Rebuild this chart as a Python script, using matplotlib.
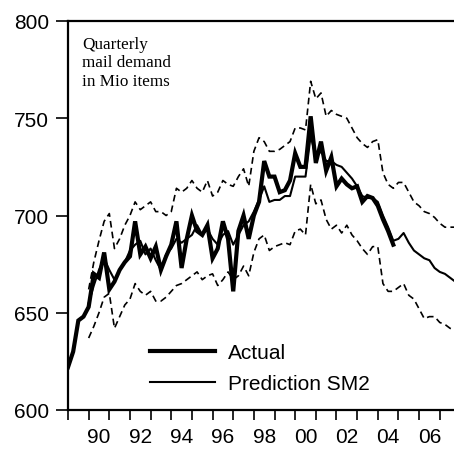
import numpy as np
import matplotlib
matplotlib.use("Agg")
import matplotlib.pyplot as plt

# Quarterly data starting 1989Q1
start_year = 1989
actual = [622, 630, 646, 648, 653, 670, 668, 681, 662, 666, 672, 676, 679, 697, 680, 684,
          678, 684, 672, 679, 685, 697, 673, 688, 700, 692, 690, 695, 678, 683, 697, 688,
          661, 692, 700, 688, 700, 707, 728, 720, 720, 712, 713, 718, 732, 725, 725, 751,
          727, 738, 723, 730, 715, 719, 716, 714, 715, 707, 710, 709, 705, 698, 692, 685]
# prediction, upper and lower bands start 1990Q1
band_start = 1990
prediction = [655, 664, 672, 678, 672, 667, 672, 676, 682, 685, 687, 680, 683, 677, 672, 680,
              683, 688, 686, 688, 690, 695, 690, 693, 688, 685, 690, 692, 685, 690, 695, 697,
              702, 708, 715, 707, 708, 708, 710, 710, 720, 720, 720, 741, 730, 733, 728, 728,
              726, 725, 722, 719, 715, 710, 709, 709, 707, 700, 694, 687, 688, 691, 686, 682,
              680, 678, 677, 673, 671, 670, 668, 666]
upper = [662, 676, 687, 697, 701, 683, 688, 695, 700, 707, 703, 705, 707, 702, 702, 700,
         702, 714, 712, 714, 718, 714, 712, 718, 710, 712, 718, 716, 715, 720, 724, 715,
         733, 740, 738, 733, 733, 734, 736, 738, 745, 745, 744, 769, 760, 763, 751, 754,
         752, 751, 750, 745, 740, 737, 735, 738, 739, 722, 716, 714, 717, 717, 712, 707,
         705, 702, 701, 699, 696, 694, 694, 694]
lower = [637, 643, 650, 658, 660, 642, 648, 654, 657, 665, 661, 659, 661, 656, 656, 658,
         661, 664, 665, 667, 669, 671, 667, 669, 670, 664, 667, 671, 667, 669, 674, 669,
         681, 688, 690, 682, 684, 685, 686, 685, 692, 693, 690, 716, 706, 708, 698, 693,
         695, 691, 695, 690, 687, 683, 680, 684, 684, 665, 661, 661, 663, 665, 659, 657,
         652, 647, 648, 648, 645, 644, 642, 641]
year_labels = ["90", "92", "94", "96", "98", "00", "02", "04", "06"]
label_years = [1990, 1992, 1994, 1996, 1998, 2000, 2002, 2004, 2006]
yticks = [600, 650, 700, 750, 800]

t_act = start_year + np.arange(len(actual)) / 4
t_band = band_start + np.arange(len(prediction)) / 4

plt.rcParams['font.family'] = ['Liberation Sans', 'DejaVu Sans']
W, H = 454, 452
fig = plt.figure(figsize=(W / 100, H / 100), dpi=100)
ax = fig.add_axes([68 / W, (H - 411) / H, (W - 68) / W, (411 - 22) / H])

ax.plot(t_band, upper, color='black', lw=1.2, ls=(0, (4, 2.5)))
ax.plot(t_band, lower, color='black', lw=1.2, ls=(0, (4, 2.5)))
ax.plot(t_act, actual, color='black', lw=3.0, label='Actual', solid_joinstyle='miter')
ax.plot(t_band, prediction, color='black', lw=1.5, label='Prediction SM2')

ax.set_xlim(1989, 2007.69)
ax.set_ylim(600, 800)
ax.spines['right'].set_visible(False)
for s in ['left', 'top', 'bottom']:
    ax.spines[s].set_linewidth(1.6)

ax.set_yticks(yticks)
ax.set_yticklabels([str(v) for v in yticks], fontsize=15)
ax.tick_params(axis='y', direction='out', length=8.6, width=1.2, pad=5)

ax.set_xticks(np.arange(1989, 2008))
ax.set_xticklabels([])
ax.tick_params(axis='x', which='major', direction='out', length=7.2, width=1.2)
ax.set_xticks([y + 0.5 for y in label_years], minor=True)
ax.set_xticklabels(year_labels, minor=True, fontsize=15)
ax.tick_params(axis='x', which='minor', length=0, pad=12.5)

ax.text(82 / W, (H - 37) / H, "Quarterly\nmail demand\nin Mio items", transform=fig.transFigure,
        family=['Liberation Serif', 'DejaVu Serif'], fontsize=12.3, va='top', ha='left',
        linespacing=1.2)

leg = ax.legend(loc='upper left', bbox_to_anchor=(150 / W, (H - 344) / H),
                bbox_transform=fig.transFigure, frameon=False, fontsize=15,
                handlelength=3.1, handletextpad=0.62, labelspacing=0.6, borderpad=0,
                borderaxespad=0)

fig.savefig("out.png", dpi=100)
